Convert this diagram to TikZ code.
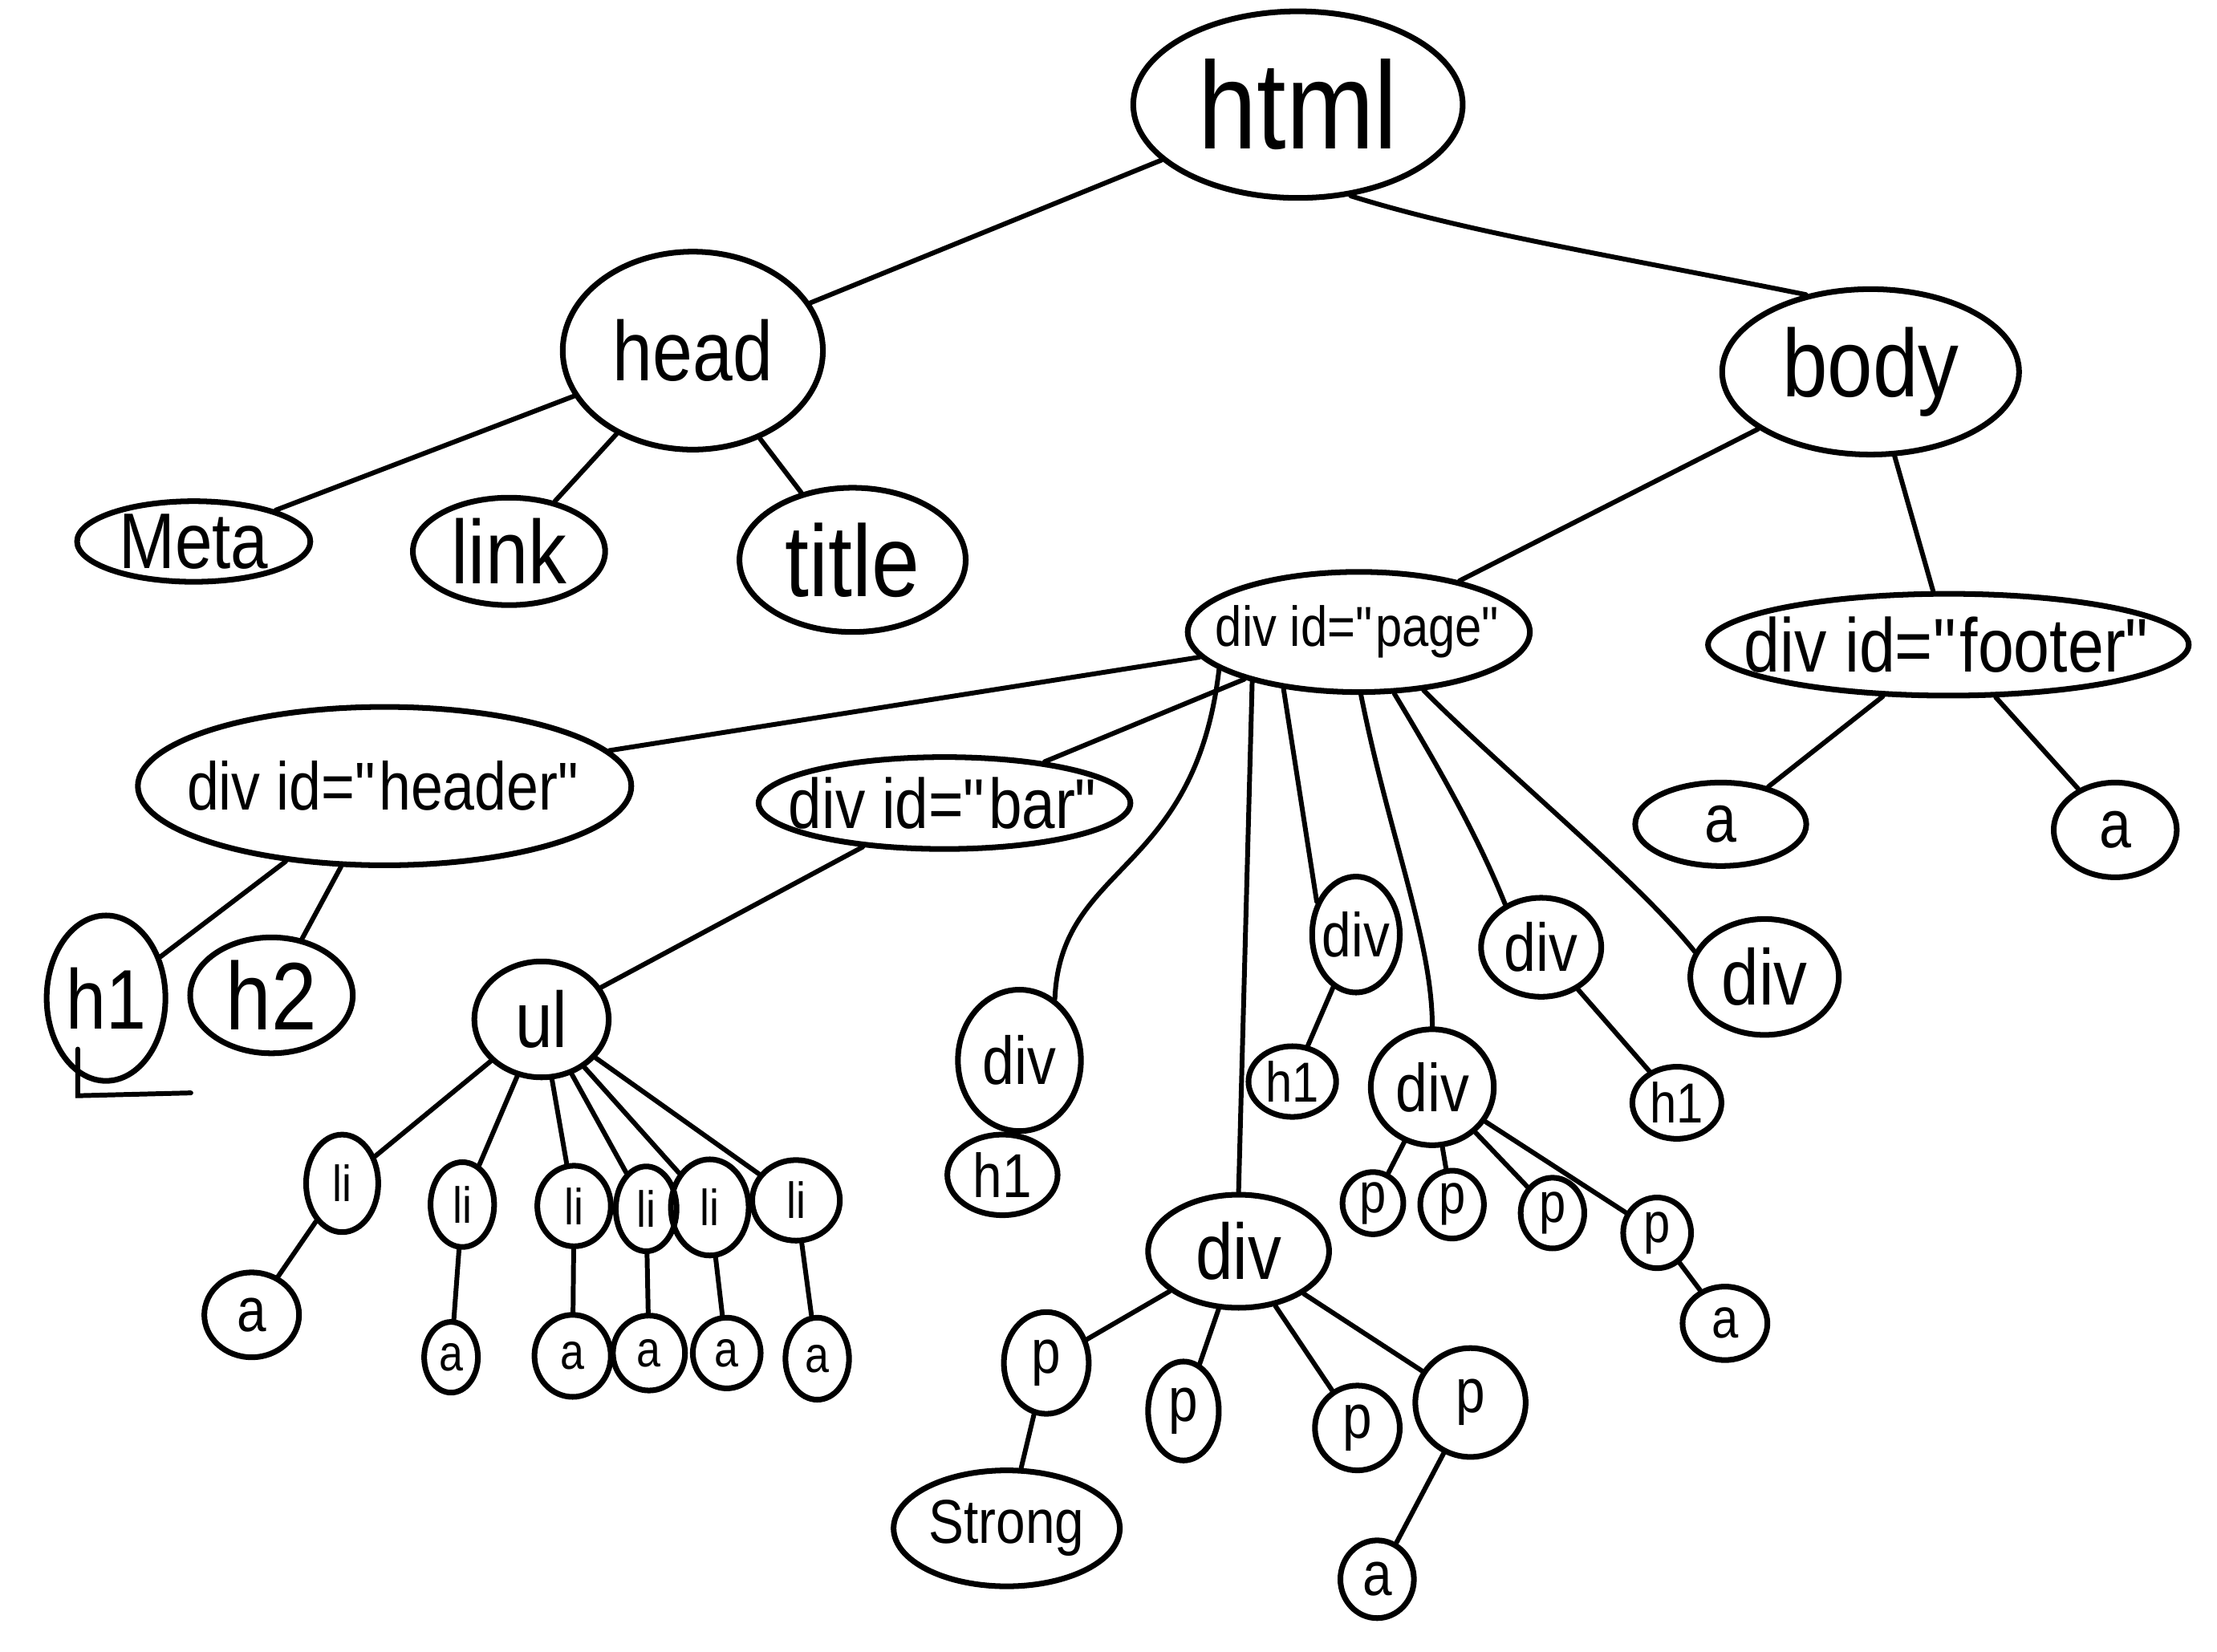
\documentclass[tikz,border=0pt]{standalone}
\usepackage{fontspec}
\setmainfont{Liberation Sans}[FakeStretch=0.85]
\usetikzlibrary{shapes.geometric}
\newcommand\zw[1]{\makebox[0pt]{#1}}
\newcommand\qq{\textquotedbl}
\begin{document}
\begin{tikzpicture}[x=0.017621cm, y=-0.017621cm,
  el/.style n args={3}{ellipse, draw, line width=2pt, minimum width=#1*0.017621cm, minimum height=#2*0.017621cm, inner sep=0pt, font=\fontsize{#3}{#3}\selectfont},
  ln/.style={line width=1.7pt, line cap=round}]
\fill[white] (0,0) rectangle (1568,1168);
\useasboundingbox (0,0) rectangle (1568,1168);
% top levels
\node[el={233}{132}{44}] (html) at (918,74) {\zw{html}};
\node[el={184}{140}{30}] (head) at (490,248) {\zw{head}};
\node[el={210}{117}{34}] (body) at (1323,263) {\zw{body}};
\node[el={165}{57}{28}] (meta) at (137,383) {\zw{Meta}};
\node[el={136}{76}{32}] (link) at (360,390) {\zw{link}};
\node[el={160}{102}{36}] (title) at (603,396) {\zw{title}};
\node[el={242}{85}{20}] (page) at (961,447) {\zw{div id=\qq page\qq}};
\node[el={340}{72}{27}] (footer) at (1378,456) {\zw{div id=\qq footer\qq}};
\node[el={349}{112}{24}] (header) at (272,556) {\zw{div id=\qq header\qq}};
\node[el={263}{65}{25}] (bar) at (668,568) {\zw{div id=\qq bar\qq}};
\node[el={121}{59}{24}] (aF1) at (1217,583) {\zw{a}};
\node[el={87}{67}{24}] (aF2) at (1496,587) {\zw{a}};
\node[el={84}{117}{30}] (h1H) at (75,706) {\zw{h1}};
\node[el={115}{82}{34}] (h2) at (192,704) {\zw{h2}};
\node[el={95}{82}{28}] (ul) at (383,721) {\zw{ul}};
% page children
\node[el={87}{100}{24}] (divL) at (721,750) {\zw{div}};
\node[el={78}{57}{22}] (hiL) at (709,831) {\zw{h1}};
\node[el={62}{82}{22}] (divM) at (959,661) {\zw{div}};
\node[el={62}{50}{20}] (h1M) at (914,765) {\zw{h1}};
\node[el={85}{70}{24}] (divR1) at (1090,670) {\zw{div}};
\node[el={105}{82}{28}] (divR2) at (1248,691) {\zw{div}};
\node[el={63}{51}{20}] (h1R) at (1186,780) {\zw{h1}};
\node[el={87}{82}{24}] (divLM) at (1013,769) {\zw{div}};
\node[el={128}{80}{28}] (divB) at (876,885) {\zw{div}};
% list items
\node[el={51}{69}{18}] (li0) at (242,837) {\zw{li}};
\node[el={45}{60}{18}] (li1) at (327,852) {\zw{li}};
\node[el={52}{57}{18}] (li2) at (406,853) {\zw{li}};
\node[el={43}{60}{18}] (li3) at (457,855) {\zw{li}};
\node[el={55}{68}{18}] (li4) at (502,854) {\zw{li}};
\node[el={62}{57}{18}] (li5) at (563,849) {\zw{li}};
\node[el={67}{60}{22}] (a0) at (178,930) {\zw{a}};
\node[el={38}{50}{18}] (a1) at (319,960) {\zw{a}};
\node[el={54}{58}{18}] (a2) at (405,959) {\zw{a}};
\node[el={51}{53}{18}] (a3) at (459,957) {\zw{a}};
\node[el={48}{50}{18}] (a4) at (514,957) {\zw{a}};
\node[el={45}{58}{18}] (a5) at (578,961) {\zw{a}};
% p nodes
\node[el={60}{72}{22}] (pB1) at (740,964) {\zw{p}};
\node[el={50}{70}{22}] (pB2) at (837,998) {\zw{p}};
\node[el={60}{60}{22}] (pB3) at (960,1010) {\zw{p}};
\node[el={78}{77}{22}] (pB4) at (1040,992) {\zw{p}};
\node[el={160}{82}{22}] (strong) at (712,1081) {\zw{Strong}};
\node[el={52}{55}{22}] (aB) at (974,1117) {\zw{a}};
\node[el={43}{44}{20}] (pLM1) at (971,851) {\zw{p}};
\node[el={45}{48}{20}] (pLM2) at (1027,852) {\zw{p}};
\node[el={45}{50}{20}] (pLM3) at (1098,858) {\zw{p}};
\node[el={48}{50}{20}] (pLM4) at (1172,872) {\zw{p}};
\node[el={60}{52}{20}] (aLM) at (1220,936) {\zw{a}};
% connectors
\draw[ln] (html) -- (head);
\draw[ln] (html.300) .. controls +(80,25) and +(-150,-30) .. (body.130);
\draw[ln] (head) -- (meta);
\draw[ln] (head) -- (link);
\draw[ln] (head) -- (title);
\draw[ln] (body) -- (page);
\draw[ln] (body) -- (footer);
\draw[ln] (footer) -- (aF1);
\draw[ln] (footer) -- (aF2);
\draw[ln] (page) -- (header);
\draw[ln] (page) -- (bar);
\draw[ln] (page.195) .. controls (845,620) and (750,610) .. (divL.60);
\draw[ln] (page.205) -- (divB.north);
\draw[ln] (page.217) -- (divM.140);
\draw[ln] (page.272) .. controls +(20,100) and +(0,-60) .. (divLM.north);
\draw[ln] (page.300) .. controls +(30,50) and +(-20,-50) .. (divR1.130);
\draw[ln] (page.318) .. controls +(60,60) and +(-40,-50) .. (divR2.160);
\draw[ln] (header) -- (h1H);
\draw[ln] (header) -- (h2);
\draw[ln] (bar) -- (ul);
\foreach \i in {0,...,5} { \draw[ln] (ul) -- (li\i); \draw[ln] (li\i) -- (a\i); }
\draw[ln] (divL) -- (hiL);
\draw[ln] (divM) -- (h1M);
\draw[ln] (divR1) -- (h1R);
\foreach \i in {1,...,4} { \draw[ln] (divLM) -- (pLM\i); \draw[ln] (divB) -- (pB\i); }
\draw[ln] (pLM4) -- (aLM);
\draw[ln] (pB1) -- (strong);
\draw[ln] (pB4) -- (aB);
\draw[ln] (55,742) -- (55,775) -- (135,773);
\end{tikzpicture}
\end{document}
